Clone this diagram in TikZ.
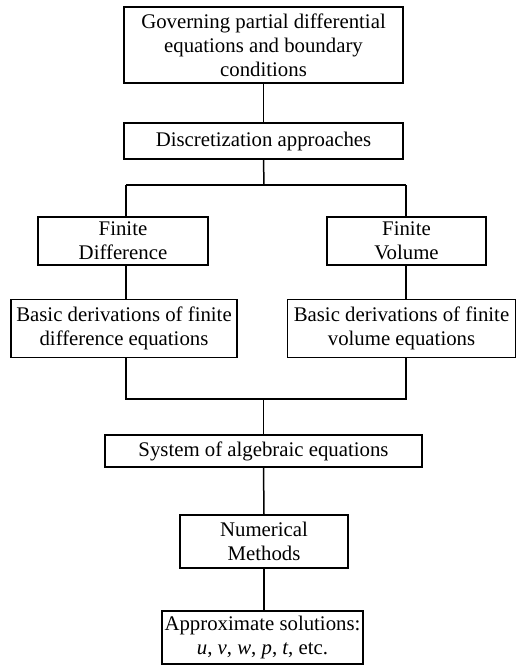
\documentclass[tikz,border=0pt]{standalone}
\usepackage{fontspec}
\setmainfont{Liberation Serif}
\begin{document}
\begin{tikzpicture}[x=1pt,y=-1pt,
  box/.style={draw, line width=1.5pt, inner sep=0pt, align=center, font=\fontsize{20.8}{24}\selectfont},
  conn/.style={line width=1.5pt}]
\useasboundingbox (0,0) rectangle (517,666);
\node[box, minimum width=279, minimum height=76] (gov) at (263.5,45) {Governing partial differential\\equations and boundary\\conditions};
\node[box, minimum width=279, minimum height=36] (disc) at (263.5,141) {Discretization approaches};
\node[box, minimum width=170, minimum height=48] (fd) at (123,241) {Finite\\Difference};
\node[box, minimum width=159, minimum height=48] (fv) at (406.5,241) {Finite\\Volume};
\node[box, minimum width=226, minimum height=58] (bdl) at (124,328.5) {Basic derivations of finite\\difference equations};
\node[box, minimum width=228, minimum height=58] (bdr) at (401.5,328.5) {Basic derivations of finite\\volume equations};
\node[box, minimum width=317, minimum height=32] (sys) at (263.5,451) {System of algebraic equations};
\node[box, minimum width=168, minimum height=53] (num) at (264,541.5) {Numerical\\Methods};
\node[box, minimum width=201, minimum height=53] (app) at (262.5,637.5) {Approximate solutions:\\\textit{u}, \textit{v}, \textit{w}, \textit{p}, \textit{t}, etc.};
\coordinate (split) at (264,185);
\coordinate (sl) at (126,185);
\coordinate (sr) at (406,185);
\coordinate (ml) at (126,399);
\coordinate (mr) at (406,399);
\coordinate (mc) at (263.5,399);
\draw[conn] (gov.south) -- (disc.north);
\draw[conn] (disc.south) -- (split);
\draw[conn] (sl) -- (sr);
\draw[conn] (sl) -- (sl |- fd.north);
\draw[conn] (sr) -- (sr |- fv.north);
\draw[conn] (sl |- fd.south) -- (sl |- bdl.north);
\draw[conn] (sr |- fv.south) -- (sr |- bdr.north);
\draw[conn] (sl |- bdl.south) -- (ml) -- (mr) -- (mr |- bdr.south);
\draw[conn] (mc) -- (sys.north);
\draw[conn] (sys.south) -- (num.north);
\draw[conn] (num.south) -- (num.south |- app.north);
\end{tikzpicture}
\end{document}
